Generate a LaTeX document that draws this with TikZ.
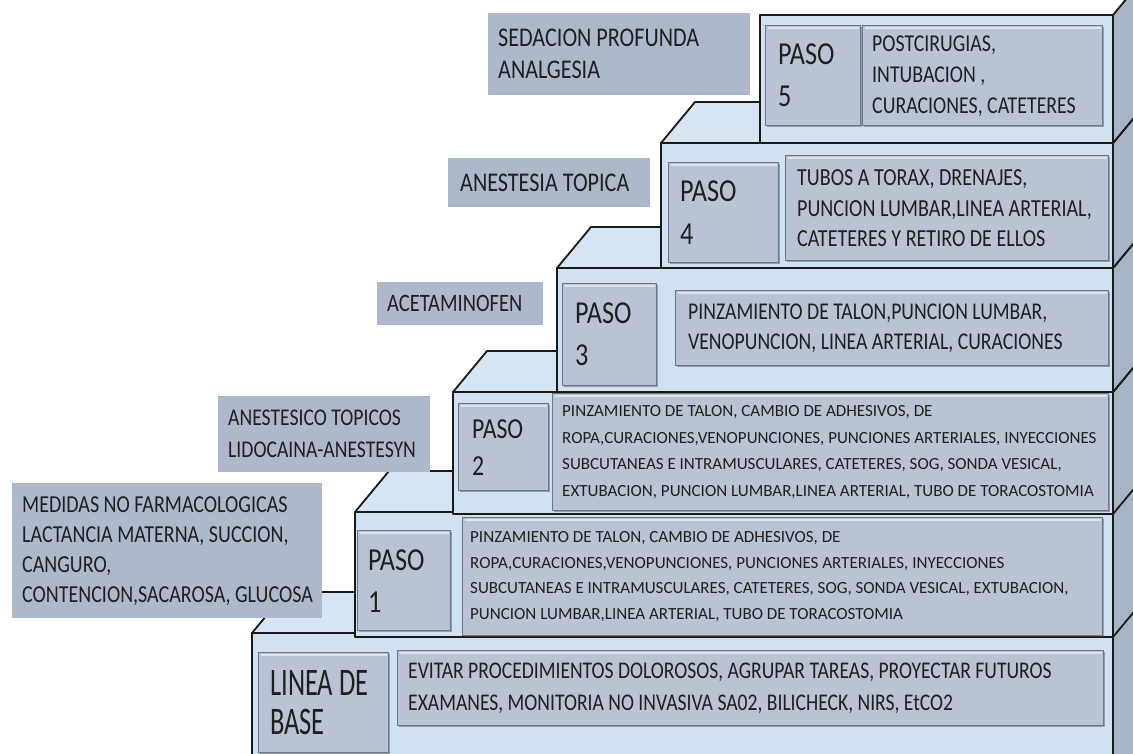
\documentclass[tikz,border=0pt]{standalone}
\usepackage{fontspec}
\setmainfont{Carlito}
\newfontfamily\fA[FakeStretch=0.82]{Carlito}
\newfontfamily\fL[FakeStretch=0.68]{Carlito}
\usetikzlibrary{shadows}
\definecolor{frontc}{RGB}{208,225,242}
\definecolor{topc}{RGB}{214,229,244}
\definecolor{sidec}{RGB}{166,180,197}
\definecolor{innerc}{RGB}{185,195,212}
\definecolor{innerd}{RGB}{108,118,134}
\definecolor{labelc}{RGB}{173,185,203}
\definecolor{edgec}{RGB}{25,25,25}
\tikzset{
  face/.style={fill=frontc, draw=edgec, line width=1.8pt, line join=round},
  topface/.style={fill=topc, draw=edgec, line width=1.8pt, line join=round},
  sideface/.style={fill=sidec, draw=edgec, line width=1.8pt, line join=round},
  ibox/.style={rectangle, anchor=north west, inner sep=0pt, fill=innerc, draw=innerd, line width=1.4pt,
    drop shadow={shadow xshift=1.2pt, shadow yshift=-1.5pt, opacity=.45, fill=black!70},
    path picture={\draw[white!55!innerc, line width=2pt]
      ([shift={(2pt,-2.5pt)}]path picture bounding box.north west) --
      ([shift={(-2pt,-2.5pt)}]path picture bounding box.north east);}},
  lbox/.style={rectangle, anchor=north west, inner sep=0pt, fill=labelc},
  txt/.style={anchor=west, inner sep=0pt, align=left, text=black!88},
}
\newcommand\drawstep[3]{%
  \draw[sideface] (1113,#2) -- (1147,#2-41) -- (1147,#3-41) -- (1113,#3) -- cycle;
  \draw[topface] (#1,#2) -- (#1+34,#2-41) -- (1147,#2-41) -- (1113,#2) -- cycle;
  \draw[face] (#1,#2) rectangle (1113,#3);
}
\begin{document}
\begin{tikzpicture}[x=1pt,y=-1pt]
\useasboundingbox (0,0) rectangle (1133,753);
\fill[white] (0,0) rectangle (1133,753);
\clip (0,0) rectangle (1133,753);

% ---- base step
\drawstep{252}{633}{800}
\node[ibox, minimum width=130pt, minimum height=100pt] (b0a) at (258,652) {};
\node[txt, font=\fL\fontsize{39}{39}\selectfont] (b0aT) at ([xshift=12pt]b0a.west) {LINEA DE\\BASE};
\node[ibox, minimum width=706pt, minimum height=75pt] (b0b) at (397,650) {};
\node[txt, font=\fA\fontsize{23.9}{32}\selectfont] (b0bT) at ([xshift=11pt]b0b.west)
  {EVITAR PROCEDIMIENTOS DOLOROSOS, AGRUPAR TAREAS, PROYECTAR FUTUROS\\EXAMANES, MONITORIA NO INVASIVA SA02, BILICHECK, NIRS, EtCO2};

% ---- step 1
\drawstep{355}{512}{637}
\node[ibox, minimum width=93pt, minimum height=100pt] (b1a) at (357,530) {};
\node[txt, font=\fA\fontsize{32}{42}\selectfont] (b1aT) at ([xshift=11pt]b1a.west) {PASO\\1};
\node[ibox, minimum width=640pt, minimum height=118pt] (b1b) at (462,517) {};
\node[txt, font=\fontsize{17}{25.7}\selectfont] (b1bT) at ([xshift=8pt]b1b.west)
  {PINZAMIENTO DE TALON, CAMBIO DE ADHESIVOS, DE\\
   ROPA,CURACIONES,VENOPUNCIONES, PUNCIONES ARTERIALES, INYECCIONES\\
   SUBCUTANEAS E INTRAMUSCULARES, CATETERES, SOG, SONDA VESICAL, EXTUBACION,\\
   PUNCION LUMBAR,LINEA ARTERIAL, TUBO DE TORACOSTOMIA};

% ---- step 2
\drawstep{453}{392}{514}
\node[ibox, minimum width=90pt, minimum height=87pt] (b2a) at (458,403) {};
\node[txt, font=\fA\fontsize{29}{37}\selectfont] (b2aT) at ([xshift=14pt]b2a.west) {PASO\\2};
\node[ibox, minimum width=556pt, minimum height=117pt] (b2b) at (552,393) {};
\node[txt, font=\fontsize{17}{26.7}\selectfont] (b2bT) at ([xshift=10pt]b2b.west)
  {PINZAMIENTO DE TALON, CAMBIO DE ADHESIVOS, DE\\
   ROPA,CURACIONES,VENOPUNCIONES, PUNCIONES ARTERIALES, INYECCIONES\\
   SUBCUTANEAS E INTRAMUSCULARES, CATETERES, SOG, SONDA VESICAL,\\
   EXTUBACION, PUNCION LUMBAR,LINEA ARTERIAL, TUBO DE TORACOSTOMIA};

% ---- step 3
\drawstep{557}{268}{392}
\node[ibox, minimum width=94pt, minimum height=102pt] (b3a) at (562,283) {};
\node[txt, font=\fA\fontsize{32}{42}\selectfont] (b3aT) at ([xshift=13pt]b3a.west) {PASO\\3};
\node[ibox, minimum width=433pt, minimum height=75pt] (b3b) at (675,290) {};
\node[txt, font=\fA\fontsize{24}{30}\selectfont] (b3bT) at ([xshift=13pt]b3b.west)
  {PINZAMIENTO DE TALON,PUNCION LUMBAR,\\VENOPUNCION, LINEA ARTERIAL, CURACIONES};

% ---- step 4
\drawstep{661}{143}{268}
\node[ibox, minimum width=110pt, minimum height=100pt] (b4a) at (668,162) {};
\node[txt, font=\fA\fontsize{32}{43}\selectfont] (b4aT) at ([xshift=12pt]b4a.west) {PASO\\4};
\node[ibox, minimum width=323pt, minimum height=105pt] (b4b) at (785,155) {};
\node[txt, font=\fA\fontsize{24.5}{30.5}\selectfont] (b4bT) at ([xshift=12pt]b4b.west)
  {TUBOS A TORAX, DRENAJES,\\PUNCION LUMBAR,LINEA ARTERIAL,\\CATETERES Y RETIRO DE ELLOS};

% ---- step 5
\draw[sideface] (1113,15) -- (1147,-26) -- (1147,102) -- (1113,143) -- cycle;
\draw[face] (760,15) rectangle (1113,143);
\node[ibox, minimum width=95pt, minimum height=100pt] (b5a) at (765,25) {};
\node[txt, font=\fA\fontsize{32}{42}\selectfont] (b5aT) at ([xshift=13pt]b5a.west) {PASO\\5};
\node[ibox, minimum width=240pt, minimum height=100pt] (b5b) at (862,25) {};
\node[txt, font=\fA\fontsize{24.2}{31}\selectfont] (b5bT) at ([xshift=10pt]b5b.west)
  {POSTCIRUGIAS,\\INTUBACION ,\\CURACIONES, CATETERES};

% ---- labels
\node[lbox, minimum width=262pt, minimum height=82pt] (l5) at (488,13) {};
\node[txt, font=\fA\fontsize{27}{32}\selectfont] (l5T) at ([xshift=10pt]l5.west) {SEDACION PROFUNDA\\ANALGESIA};
\node[lbox, minimum width=202pt, minimum height=49pt] (l4) at (448,158) {};
\node[txt, font=\fA\fontsize{27}{32}\selectfont] (l4T) at ([xshift=12pt]l4.west) {ANESTESIA TOPICA};
\node[lbox, minimum width=166pt, minimum height=43pt] (l3) at (377,282) {};
\node[txt, font=\fA\fontsize{25}{30}\selectfont] (l3T) at ([xshift=10pt]l3.west) {ACETAMINOFEN};
\node[lbox, minimum width=212pt, minimum height=76pt] (l2) at (218,396) {};
\node[txt, font=\fA\fontsize{24}{32}\selectfont] (l2T) at ([xshift=10pt]l2.west) {ANESTESICO TOPICOS\\LIDOCAINA-ANESTESYN};
\node[lbox, minimum width=310pt, minimum height=135pt] (l1) at (12,483) {};
\node[txt, font=\fA\fontsize{24.4}{30}\selectfont] (l1T) at ([xshift=10pt]l1.west)
  {MEDIDAS NO FARMACOLOGICAS\\LACTANCIA MATERNA, SUCCION,\\CANGURO,\\CONTENCION,SACAROSA, GLUCOSA};
\end{tikzpicture}
\end{document}
